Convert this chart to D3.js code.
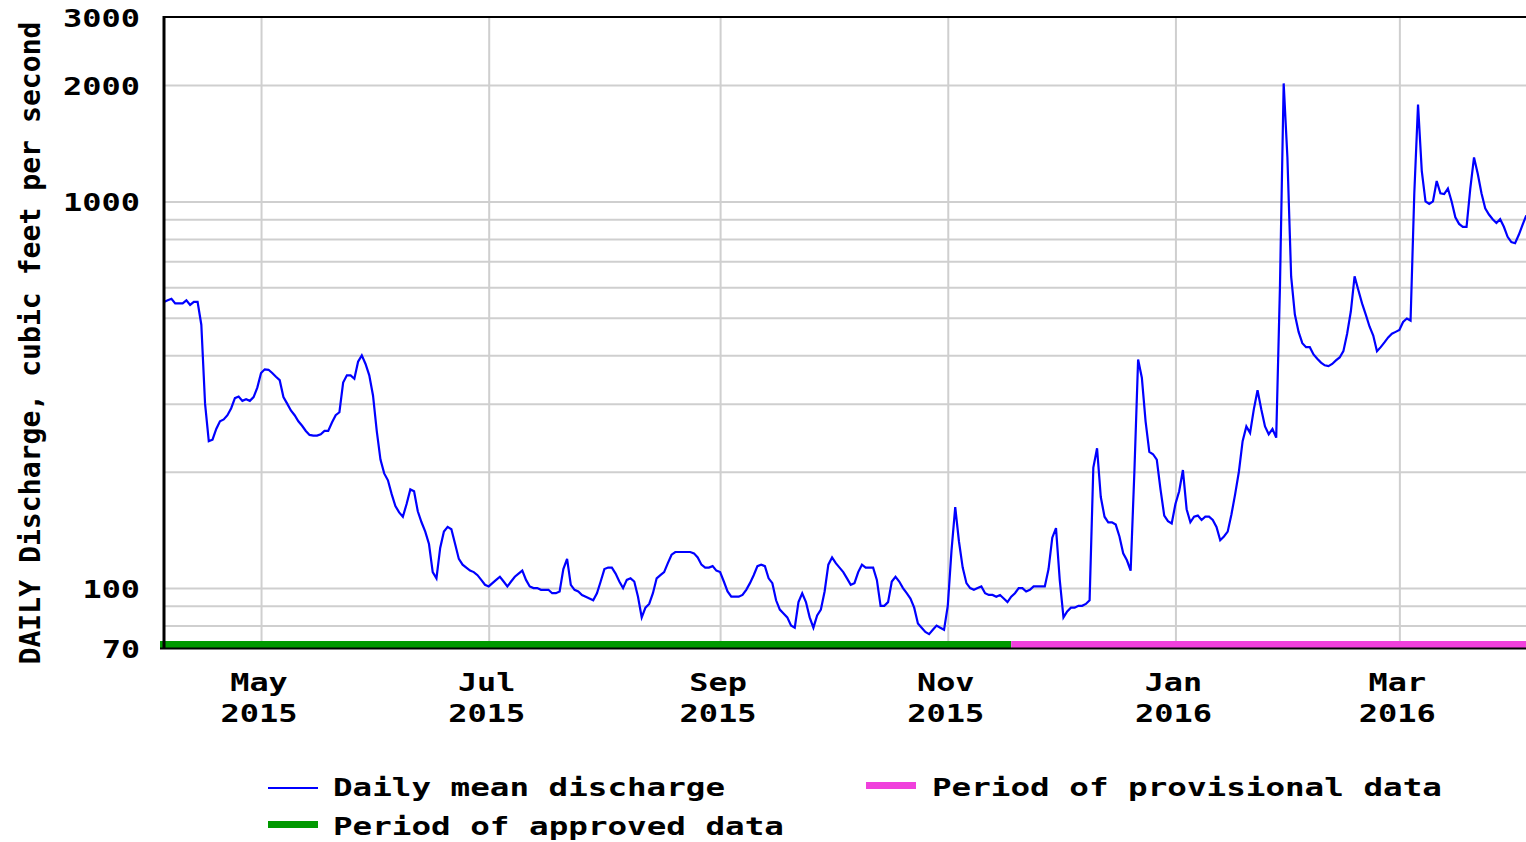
<!DOCTYPE html>
<html>
<head>
<meta charset="utf-8">
<script src="https://cdn.jsdelivr.net/npm/d3@7"></script>
<style>
  body { margin: 0; background: #fff; }
  svg { display: block; }
  text { font-family: "DejaVu Sans Mono", monospace; font-weight: bold; fill: #000; }
</style>
</head>
<body>
<div id="chart"></div>
<script>
// daily mean discharge, cfs, one value per day from startDate
const startDate = "2015-04-05";
const dailyMean = [
  550, 555, 560, 545, 545, 545, 555, 540, 550, 550, 480, 300, 240, 242, 258, 270, 273, 280, 292, 310,
  313, 305, 308, 305, 312, 330, 360, 368, 367, 360, 352, 345, 312, 300, 288, 280, 270, 263, 255, 249,
  248, 248, 250, 255, 255, 268, 280, 285, 340, 355, 355, 348, 385, 400, 380, 355, 315, 255, 215, 198,
  190, 175, 163, 157, 153, 165, 180, 178, 158, 148, 140, 130, 110, 106, 127, 140, 144, 142, 130, 119,
  115, 113, 111, 110, 108, 105, 102, 101, 103, 105, 107, 104, 101, 104, 107, 109, 111, 105, 101, 100,
  100, 99, 99, 99, 97, 97, 98, 112, 119, 102, 99, 98, 96, 95, 94, 93, 97, 104, 112, 113,
  113, 109, 104, 100, 105, 106, 104, 95, 84, 89, 91, 97, 106, 108, 110, 116, 122, 124, 124, 124,
  124, 124, 123, 120, 115, 113, 113, 114, 111, 110, 104, 98, 95, 95, 95, 96, 99, 103, 108, 114,
  115, 114, 106, 103, 93, 88, 86, 84, 80, 79, 92, 97, 92, 84, 79, 85, 88, 98, 115, 120,
  116, 113, 110, 106, 102, 103, 110, 115, 113, 113, 113, 105, 90, 90, 92, 104, 107, 104, 100, 97,
  94, 89, 81, 79, 77, 76, 78, 80, 79, 78, 90, 125, 162, 132, 113, 103, 100, 99, 100, 101,
  97, 96, 96, 95, 96, 94, 92, 95, 97, 100, 100, 98, 99, 101, 101, 101, 101, 112, 135, 143,
  105, 84, 87, 89, 89, 90, 90, 91, 93, 205, 230, 172, 153, 148, 148, 146, 136, 123, 118, 111,
  200, 390, 350, 270, 225, 222, 215, 180, 154, 149, 147, 165, 178, 202, 160, 148, 153, 154, 150, 153,
  153, 150, 144, 133, 136, 140, 155, 175, 200, 240, 262, 252, 290, 325, 290, 262, 250, 258, 245, 600,
  2020, 1300, 640, 510, 460, 430, 420, 420, 402, 392, 383, 377, 375, 380, 388, 395, 410, 455, 520, 640,
  590, 545, 510, 475, 450, 410, 420, 432, 445, 455, 460, 465, 488, 498, 492, 1050, 1780, 1200, 1000, 985,
  1000, 1130, 1050, 1045, 1080, 1000, 910, 875, 860, 860, 1080, 1300, 1180, 1050, 960, 925, 900, 880, 900, 860,
  810, 785, 780, 820, 870, 920
];

const xDomain = ["2015-04-05", "2016-04-05"];
const yDomain = [70, 3000];
const yTickLabels = [70, 100, 1000, 2000, 3000];
const yGridValues = [80, 90, 100, 200, 300, 400, 500, 600, 700, 800, 900, 1000, 2000];
const monthTicks = ["2015-05-01", "2015-07-01", "2015-09-01", "2015-11-01", "2016-01-01", "2016-03-01"];

const periodNames = ["approved", "provisional"];
const periodStarts = ["2015-04-05", "2015-11-18"];
const periodEnds = ["2015-11-18", "2016-04-05"];

const legendLabels = ["Daily mean discharge", "Period of approved data", "Period of provisional data"];
const yTitle = "DAILY Discharge, cubic feet per second";

const W = 1526, H = 842;
const plotL = 164, plotT = 17, plotR = 1530, plotB = 648;
const periodColor = { approved: "#009900", provisional: "#f040dc" };

const parse = d3.utcParse("%Y-%m-%d");
const day0 = parse(startDate);
const series = dailyMean.map((v, i) => ({ date: d3.utcDay.offset(day0, i), value: v }));

const x = d3.scaleUtc().domain(xDomain.map(parse)).range([plotL, plotR]);
const y = d3.scaleLog().domain(yDomain).range([plotB, plotT]);

const svg = d3.select("#chart").append("svg")
  .attr("width", W).attr("height", H);

// grid
svg.append("g")
  .attr("transform", `translate(${plotL},0)`)
  .call(d3.axisLeft(y).tickValues(yGridValues).tickSize(-(plotR - plotL)).tickFormat(""))
  .call(g => g.select(".domain").remove())
  .call(g => g.selectAll("line").attr("stroke", "#cfcfcf").attr("stroke-width", 2));

svg.append("g")
  .attr("transform", `translate(0,${plotB})`)
  .call(d3.axisBottom(x).tickValues(monthTicks.map(parse)).tickSize(-(plotB - plotT)).tickFormat(""))
  .call(g => g.select(".domain").remove())
  .call(g => g.selectAll("line").attr("stroke", "#cfcfcf").attr("stroke-width", 2));

// discharge line
svg.append("clipPath").attr("id", "plotclip")
  .append("rect").attr("x", plotL).attr("y", plotT).attr("width", plotR - plotL).attr("height", plotB - plotT);

svg.append("path")
  .datum(series)
  .attr("clip-path", "url(#plotclip)")
  .attr("fill", "none")
  .attr("stroke", "#0000ff")
  .attr("stroke-width", 2.2)
  .attr("d", d3.line().x(d => x(d.date)).y(d => y(d.value)));

// approval period bars along the bottom
svg.append("g").selectAll("rect")
  .data(periodNames)
  .join("rect")
  .attr("x", (d, i) => i === 0 ? x(parse(periodStarts[i])) - 4 : x(parse(periodStarts[i])))
  .attr("width", (d, i) => x(parse(periodEnds[i])) - x(parse(periodStarts[i])) + (i === 0 ? 4 : 0))
  .attr("y", plotB - 7)
  .attr("height", 7)
  .attr("fill", d => periodColor[d]);

// frame
svg.append("line").attr("x1", plotL).attr("x2", plotR).attr("y1", plotT).attr("y2", plotT)
  .attr("stroke", "#000").attr("stroke-width", 2);
svg.append("line").attr("x1", plotL - 4).attr("x2", plotR).attr("y1", plotB + 0.5).attr("y2", plotB + 0.5)
  .attr("stroke", "#000").attr("stroke-width", 2);
svg.append("line").attr("x1", plotL).attr("x2", plotL).attr("y1", plotT - 1).attr("y2", plotB + 1)
  .attr("stroke", "#000").attr("stroke-width", 3);

// y tick labels
svg.append("g").selectAll("text")
  .data(yTickLabels)
  .join("text")
  .attr("x", 140)
  .attr("y", d => y(d) + 1)
  .attr("dy", "0.36em")
  .attr("text-anchor", "end")
  .attr("font-size", 25)
  .attr("textLength", d => String(d).length * 19.5 - 1)
  .attr("lengthAdjust", "spacingAndGlyphs")
  .text(d => d);

// x tick labels
const fmtMonth = d3.utcFormat("%b"), fmtYear = d3.utcFormat("%Y");
const xl = svg.append("g").selectAll("g")
  .data(monthTicks.map(parse))
  .join("g")
  .attr("transform", d => `translate(${x(d) - 2},0)`);
xl.append("text").attr("y", 691).attr("text-anchor", "middle").attr("font-size", 25)
  .attr("textLength", d => fmtMonth(d).length * 19.5 - 1).attr("lengthAdjust", "spacingAndGlyphs")
  .text(fmtMonth);
xl.append("text").attr("y", 722).attr("text-anchor", "middle").attr("font-size", 25)
  .attr("textLength", d => fmtYear(d).length * 19.5 - 1).attr("lengthAdjust", "spacingAndGlyphs")
  .text(fmtYear);

// y axis title
svg.append("text")
  .attr("transform", "translate(40,343) rotate(-90)")
  .attr("text-anchor", "middle")
  .attr("font-size", 28)
  .attr("textLength", 643)
  .attr("lengthAdjust", "spacingAndGlyphs")
  .text(yTitle);

// legend
const lg = svg.append("g");
lg.append("line").attr("x1", 268).attr("x2", 318).attr("y1", 788).attr("y2", 788)
  .attr("stroke", "#0000ff").attr("stroke-width", 2);
lg.append("rect").attr("x", 268).attr("y", 821).attr("width", 50).attr("height", 7).attr("fill", periodColor.approved);
lg.append("rect").attr("x", 866).attr("y", 782).attr("width", 50).attr("height", 7).attr("fill", periodColor.provisional);
const legendPos = [[333, 796], [333, 835], [932, 796]];
lg.selectAll("text")
  .data(legendLabels)
  .join("text")
  .attr("x", (d, i) => legendPos[i][0])
  .attr("y", (d, i) => legendPos[i][1])
  .attr("font-size", 25)
  .attr("textLength", d => d.length * 19.65 - 1)
  .attr("lengthAdjust", "spacingAndGlyphs")
  .text(d => d);
</script>
</body>
</html>
